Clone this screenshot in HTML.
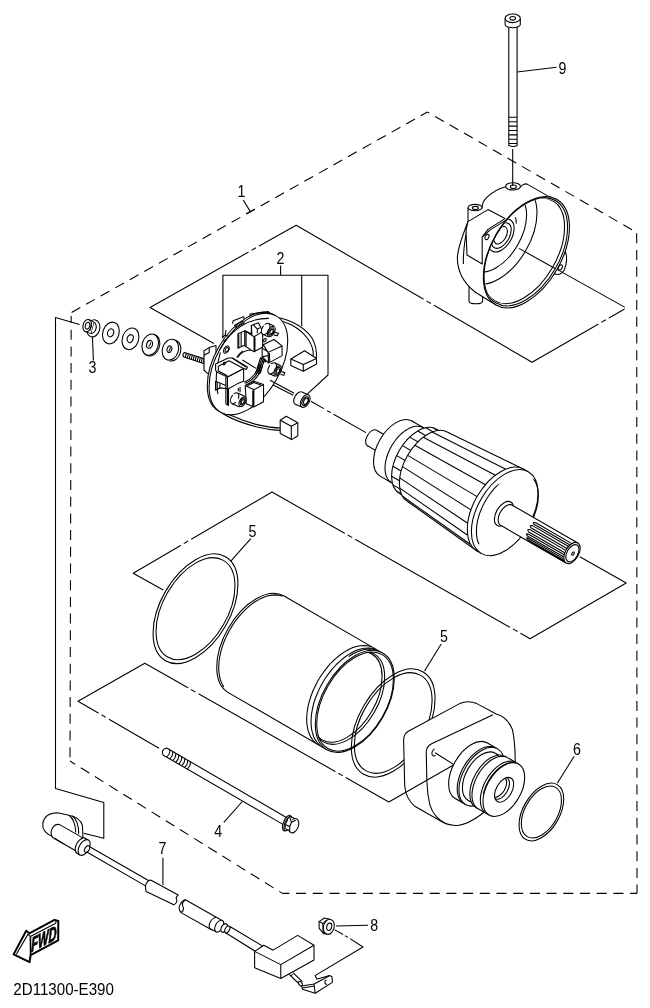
<!DOCTYPE html>
<html><head><meta charset="utf-8"><title>Starting Motor</title>
<style>
html,body{margin:0;padding:0;background:#fff}
svg{display:block;will-change:transform;opacity:0.999}
svg *{vector-effect:non-scaling-stroke}
.k{fill:none;stroke:#000;stroke-width:1.08;stroke-linecap:butt;stroke-linejoin:round}
.w{fill:#fff;stroke:#000;stroke-width:1.08;stroke-linecap:butt;stroke-linejoin:round}
.f{fill:#fff;stroke:none}
.t{fill:none;stroke:#000;stroke-width:0.8}
text{font-family:"Liberation Sans",Arial,sans-serif;font-size:16.6px;fill:#000;stroke:none}
</style></head><body>
<svg width="650" height="1008" viewBox="0 0 650 1008">
<rect width="650" height="1008" fill="#fff"/>
<g id="frame" class="k">
<!-- dashed assembly outline -->
<g stroke-dasharray="10 6.7">
<path d="M427.4,112 L636.7,232.4" stroke-dashoffset="7.8"/>
<path d="M427.4,112 L71.2,312.7" stroke-dashoffset="2.4"/>
<path d="M636.7,233.3 L637,893.4"/>
<path d="M71.2,316 L70,761" stroke-dashoffset="3"/>
<path d="M70,761 L282.4,893.4" stroke-dashoffset="4"/>
<path d="M282.4,893.4 L637,893.4" stroke-dashoffset="3"/>
</g>
<!-- plane 1 -->
<path d="M213.9,343.5 L150,307.5 L296.2,225.2 L532.1,362.3 L624.6,309"/>
<!-- plane 2 -->
<path d="M163.2,590 L133.2,573.2 L272,492 L530.1,638.7 L626.2,583 L579.8,556.7"/>
<!-- plane 3 -->
<path d="M159,748.3 L78,701.2 L144.8,663.2 L388.8,802"/>
<!-- wire route line -->
<path d="M79.5,324.5 L55.5,317.5 L55.5,788.5 L103.8,802.4 L103.8,838.2 L83.7,833.2"/>
</g>

<!-- chain-dash marks on plane edges -->
<g id="marks">
<path d="M248.5,252.1 L258.9,246.2" style="stroke:#fff;stroke-width:3;fill:none"/>
<path class="k" d="M251.4,250.4 L256.0,247.8"/>
<path d="M423.5,299.2 L433.9,305.2" style="stroke:#fff;stroke-width:3;fill:none"/>
<path class="k" d="M426.5,300.9 L430.9,303.5"/>
<path d="M598.4,324.1 L608.8,318.1" style="stroke:#fff;stroke-width:3;fill:none"/>
<path class="k" d="M601.3,322.4 L605.9,319.8"/>
<path d="M180.8,545.3 L191.2,539.3" style="stroke:#fff;stroke-width:3;fill:none"/>
<path class="k" d="M183.8,543.6 L188.2,541.0"/>
<path d="M344.8,533.4 L355.2,539.3" style="stroke:#fff;stroke-width:3;fill:none"/>
<path class="k" d="M347.7,535.0 L352.3,537.6"/>
<path d="M510.0,627.3 L520.4,633.2" style="stroke:#fff;stroke-width:3;fill:none"/>
<path class="k" d="M512.9,628.9 L517.5,631.5"/>
<path d="M98.5,713.1 L108.9,719.1" style="stroke:#fff;stroke-width:3;fill:none"/>
<path class="k" d="M101.5,714.8 L105.9,717.4"/>
<path d="M188.1,687.8 L198.5,693.8" style="stroke:#fff;stroke-width:3;fill:none"/>
<path class="k" d="M191.0,689.5 L195.6,692.1"/>
<path d="M335.4,771.6 L345.8,777.5" style="stroke:#fff;stroke-width:3;fill:none"/>
<path class="k" d="M338.3,773.3 L342.9,775.9"/>
</g>

<!-- rear housing (yoke end) : zoom coords x5 from (445,170) -->
<g id="housing" transform="translate(445,170) scale(0.2)">
<defs><clipPath id="hc"><ellipse cx="405" cy="410" rx="168" ry="292" transform="rotate(30 405 410)"/></clipPath></defs>
<!-- bottom peg -->
<path class="w" d="M120,560 L120,655 A34,14 0 0 0 188,655 L188,560 Z"/>
<!-- body -->
<path class="w" d="M559,147 L520,133 L415,73 Q405,66 392,72 L377,84 L303,84 C269,92 231,115 204,142 C192,155 186,170 185,190 L115,190 L115,258 C95,310 62,390 62,440 C62,520 100,570 150,610 L255,675 Z"/>
<path class="k" d="M118,262 C104,320 90,400 92,470"/>
<!-- left peg boss -->
<ellipse class="w" cx="150" cy="188" rx="35" ry="16"/>
<ellipse class="k" cx="152" cy="190" rx="15" ry="8"/>
<!-- top bolt boss -->
<ellipse class="w" cx="340" cy="82" rx="37" ry="18"/>
<ellipse class="k" cx="342" cy="84" rx="15" ry="9"/>
<!-- terminal block -->
<path class="w" d="M115,258 L215,198 L300,243 L215,297 L186,335 L186,470 L110,425 L105,300 Z"/>
<path class="k" d="M303,252 L228,298 L186,335"/>
<ellipse class="k" cx="210" cy="335" rx="9" ry="14" transform="rotate(30 210 335)"/>
<!-- right ear -->
<path class="w" d="M600,405 C612,430 610,470 596,500 C585,520 565,525 548,520 L560,470 Z"/>
<ellipse class="k" cx="577" cy="487" rx="9" ry="14" transform="rotate(30 577 487)"/>
<!-- front opening -->
<ellipse class="w" cx="407" cy="411" rx="175.7" ry="304.5" transform="rotate(30 407 411)"/>
<ellipse class="k" cx="404" cy="409" rx="170" ry="296" transform="rotate(30 404 409)"/>
<g clip-path="url(#hc)">
<ellipse class="k" cx="394" cy="404" rx="166" ry="289" transform="rotate(30 394 404)"/>
<ellipse class="k" cx="269" cy="325" rx="155.8" ry="270" transform="rotate(30 269 325)"/>
<ellipse class="k" cx="256" cy="313" rx="124" ry="215" transform="rotate(30 256 313)"/>
<path class="k" d="M352,236 Q358,250 356,268"/>
<ellipse class="k" cx="282" cy="328" rx="52" ry="90" transform="rotate(30 282 328)"/>
<ellipse class="k" cx="282" cy="328" rx="40" ry="70" transform="rotate(30 282 328)"/>
<ellipse class="k" cx="278" cy="326" rx="28" ry="48" transform="rotate(30 278 326)"/>
<path class="k" d="M650,548 L370,392"/>
</g>
<path class="k" d="M900,687 L560,497"/>
</g>

<!-- bolt 9 -->
<g id="bolt9">
<path class="k" d="M512.7,149 L512.7,186"/>
<path class="w" d="M508.8,24 L508.8,145.5 Q512.9,147.5 517.1,145.5 L517.1,24 Z"/>
<path class="k" d="M508.8,117.3 H517.1 M508.8,121.7 H517.1 M508.8,126.1 H517.1 M508.8,130.5 H517.1 M508.8,134.9 H517.1 M508.8,139.3 H517.1 M508.8,143.5 H517.1"/>
<path class="w" d="M505.1,18.5 L505.1,24.5 A7.6,3.2 0 0 0 520.3,24.5 L520.3,18.5 Z"/>
<ellipse class="w" cx="512.7" cy="18.3" rx="7.6" ry="4.3"/>
<ellipse class="k" cx="512.7" cy="18.3" rx="2.8" ry="1.8"/>
<path class="k" d="M517.1,72 L556.5,67.2"/>
<text x="558.6" y="73.6" textLength="7.9" lengthAdjust="spacingAndGlyphs">9</text>
</g>

<!-- nut 3 and washers -->
<g id="washers">
<!-- nut -->
<g transform="translate(-0.2,0.9) rotate(15 93.5 327.5)">
<ellipse class="w" cx="93.5" cy="327.5" rx="6.4" ry="8.7"/>
<ellipse class="k" cx="92.3" cy="327.2" rx="3.9" ry="5.7"/>
<path class="w" d="M86.7,320.2 L92.3,321.5 L92.3,332.9 L86.7,332.6 Z"/>
<path class="f" d="M86.7,320.4 L92.3,321.7 L92.3,332.7 L86.7,332.4 Z"/>
<ellipse class="w" cx="86.9" cy="326.4" rx="4.2" ry="6.2"/>
<ellipse class="k" cx="87.2" cy="326.4" rx="2.2" ry="3.5"/>
<path class="k" d="M90.6,323 L90.8,330.4"/>
</g>
<!-- washers -->
<ellipse class="w" cx="110.9" cy="333" rx="8.1" ry="11.1" transform="rotate(18 110.9 333)"/>
<ellipse class="k" cx="110.6" cy="332.8" rx="3" ry="4.1" transform="rotate(18 110.6 332.8)"/>
<ellipse class="w" cx="130.5" cy="338.8" rx="8.1" ry="11.1" transform="rotate(18 130.5 338.8)"/>
<ellipse class="k" cx="130.2" cy="338.6" rx="3" ry="4.1" transform="rotate(18 130.2 338.6)"/>
<ellipse class="w" cx="151.4" cy="345.2" rx="8.1" ry="11" transform="rotate(18 151.4 345.2)"/>
<ellipse class="w" cx="150.2" cy="344.7" rx="8" ry="10.9" transform="rotate(18 150.2 344.7)"/>
<ellipse class="k" cx="149.6" cy="344.4" rx="2.9" ry="4" transform="rotate(18 149.6 344.4)"/>
<path class="k" d="M148.6,346.6 Q150.4,345.4 150.8,342.4"/>
<ellipse class="w" cx="172.6" cy="350.6" rx="8" ry="10.6" transform="rotate(18 172.6 350.6)"/>
<path class="f" d="M172.5,340 L176,341 L170,361 L166,360 Z"/>
<ellipse class="w" cx="170.4" cy="349.6" rx="8" ry="10.6" transform="rotate(18 170.4 349.6)"/>
<ellipse class="k" cx="169.4" cy="349.2" rx="2.4" ry="3.4" transform="rotate(18 169.4 349.2)"/>
<path class="k" d="M168.6,351.4 Q170,350.2 170.4,347.2"/>
</g>
<path class="k" d="M92.4,336.5 L93.4,360.5"/>
<text x="88.6" y="373.4" textLength="7.9" lengthAdjust="spacingAndGlyphs">3</text>

<!-- brush holder assy (2) -->
<g id="brushleads" class="k">
<path d="M280.6,265.4 V275.3 M222.9,338.5 V275.3 H328 V375 L307.2,394.2 M301.7,275.3 V326.3"/>
</g>
<text x="276.6" y="264" textLength="7.9" lengthAdjust="spacingAndGlyphs">2</text>
<!-- zoom x5 from (190,300) -->
<g id="brush" transform="translate(190,300) scale(0.2)">
<!-- stud -->
<path class="w" d="M-28,262 L92,300 L86,324 L-34,284 Q-38,270 -28,262 Z"/>
<path class="k" d="M-18,265 L-24,288 M-8,268 L-14,291 M2,271 L-4,294 M12,274 L6,297 M22,277 L16,300 M32,280 L26,303 M42,283 L36,306 M52,287 L46,310 M62,290 L56,313 M72,293 L66,316"/>
<!-- left bracket -->
<path class="w" d="M130,228 L96,238 L70,254 L70,350 L86,366 L110,374 L130,300 Z"/>
<path class="k" d="M96,238 L96,262 L70,276"/>
<!-- wire 2 (bottom) -->
<path class="k" d="M120,520 C150,560 250,600 330,622 C380,634 420,640 455,640 M128,540 C170,580 260,615 330,634 C380,646 420,652 455,652"/>
<!-- wire 1 (top) -->
<path class="k" d="M400,84 C470,86 560,120 610,190 C630,225 634,260 632,290 M420,100 C480,104 545,135 590,195 C610,225 618,255 616,280"/>
<!-- plate -->
<ellipse class="w" cx="283" cy="315" rx="160.5" ry="278" transform="rotate(30 283 315)"/>
<ellipse class="w" cx="292" cy="320" rx="160.5" ry="278" transform="rotate(30 292 320)"/>
<!-- rim tabs -->
<path class="k" d="M212,118 L216,104 L268,84 L272,96 M300,82 L300,70 L392,58 L398,70 M160,186 L176,176 L196,182 M166,206 L186,196 M176,176 L180,150"/>
<path class="k" d="M150,248 C200,150 290,90 395,92 M152,262 C130,330 125,420 140,470"/>
<path class="k" d="M220,128 L268,104 M226,138 L274,114"/>
<!-- center hole -->
<path class="k" d="M238,288 C255,262 280,250 305,250"/>
<ellipse class="k" cx="182" cy="248" rx="12" ry="20" transform="rotate(30 182 248)"/>
<ellipse class="k" cx="184" cy="249" rx="7" ry="12" transform="rotate(30 184 249)"/>
<!-- axis -->
<path class="k" d="M262,300 L330,342 M345,352 L356,358"/>
</g>
<!-- upper details: zoom x9.286 from (225,305) -->
<g id="brushB" transform="translate(225,305) scale(0.10769)">
<!-- box1 fin -->
<path class="w" d="M120,268 L150,255 L185,238 L185,372 L150,388 L120,402 Z"/>
<path class="k" d="M150,257 L150,386 M128,272 L128,392"/>
<!-- box1 -->
<path class="w" d="M245,190 L310,165 L350,245 L350,390 L270,435 L185,380 L185,240 L245,268 Z"/>
<path class="k" d="M185,240 L270,295 L350,245 M270,295 L270,435 M245,190 L250,282 M265,185 L300,225 L322,212 M300,225 L300,262 M278,300 L278,428 M196,250 L196,384"/>
<!-- post1 -->
<ellipse class="w" cx="378" cy="222" rx="33" ry="57" transform="rotate(30 378 222)"/>
<path class="f" d="M350,173 L402,195 L430,294 L400,280 Z"/>
<path class="k" d="M406,173 L456,196 M349,271 L402,296"/>
<ellipse class="w" cx="430" cy="246" rx="30" ry="52" transform="rotate(30 430 246)"/>
<ellipse class="k" cx="430" cy="246" rx="21" ry="37" transform="rotate(30 430 246)"/>
<ellipse class="k" cx="432" cy="247" rx="13" ry="23" transform="rotate(30 432 247)"/>
<path class="k" d="M466,254 L496,262 L486,286 L456,280"/>
<ellipse class="w" cx="370" cy="326" rx="10" ry="17" transform="rotate(30 370 326)"/>
<!-- box2 -->
<path class="w" d="M355,370 L455,320 L530,380 L530,470 L405,540 L345,480 L345,400 Z"/>
<path class="k" d="M355,370 L400,440 L530,380 M400,440 L405,540 M345,400 L390,430 M345,480 L400,470 M412,446 L416,530"/>
<!-- braided leads -->
<path class="k" d="M330,488 L282,640 M342,494 L296,640 M354,500 L310,640 M366,506 L324,640 M330,488 L370,508 L378,530 L352,522"/>
<!-- post2 -->
<ellipse class="w" cx="438" cy="588" rx="33" ry="57" transform="rotate(30 438 588)"/>
<path class="f" d="M410,539 L462,561 L490,660 L460,646 Z"/>
<path class="k" d="M466,539 L516,562 M409,637 L462,662"/>
<ellipse class="w" cx="490" cy="612" rx="30" ry="52" transform="rotate(30 490 612)"/>
<ellipse class="k" cx="490" cy="612" rx="21" ry="37" transform="rotate(30 490 612)"/>
<ellipse class="k" cx="492" cy="613" rx="13" ry="23" transform="rotate(30 492 613)"/>
<path class="k" d="M526,620 L556,628 L546,652 L516,646"/>
</g>
<!-- lower details: zoom x9.286 from (200,350) -->
<g id="brushC" transform="translate(200,350) scale(0.10769)">
<path class="k" d="M340,70 Q365,30 400,10"/>
<path class="k" d="M552,128 C540,200 480,270 410,300 M566,136 C552,210 492,282 420,312 M580,144 C566,220 504,294 430,324"/>
<!-- box3 lower channel -->
<path class="w" d="M145,290 L240,330 L240,500 L265,515 L265,360 L185,352 L145,372 Z"/>
<path class="k" d="M160,300 L160,362 M185,310 L185,352 M145,290 L145,372 L185,352"/>
<!-- box3 body -->
<path class="w" d="M255,250 L405,172 L405,290 L350,312 L255,365 Z"/>
<path class="k" d="M255,250 L255,510 M240,250 L240,330"/>
<!-- box3 top plate -->
<path class="w" d="M145,130 L262,75 L300,75 L440,158 L432,180 L405,172 L255,250 L165,210 L145,190 Z"/>
<path class="k" d="M170,150 L170,195 L255,240 M170,150 L270,100 L405,172 M300,75 L430,160"/>
<ellipse class="k" cx="226" cy="126" rx="8" ry="14" transform="rotate(30 226 126)"/>
<!-- box4 -->
<path class="w" d="M420,330 L500,290 L590,320 L590,480 L500,530 L430,500 Z"/>
<path class="k" d="M420,330 L500,370 L590,320 M500,370 L500,530 M440,332 L500,302 L566,324 M490,376 L490,524"/>
<!-- post3 -->
<ellipse class="w" cx="322" cy="448" rx="32" ry="55" transform="rotate(30 322 448)"/>
<path class="f" d="M295,400 L345,422 L375,520 L346,506 Z"/>
<path class="k" d="M349,400 L420,432 M294,496 L368,530"/>
<ellipse class="w" cx="395" cy="480" rx="28" ry="48" transform="rotate(30 395 480)"/>
<ellipse class="k" cx="395" cy="480" rx="19" ry="33" transform="rotate(30 395 480)"/>
<ellipse class="k" cx="397" cy="481" rx="12" ry="21" transform="rotate(30 397 481)"/>
<path class="k" d="M356,352 L356,384 M372,344 L372,392"/>
</g>
<!-- brushes, bushing -->
<g id="brushes">
<path class="k" d="M270,380.2 L294.2,393.2 M273.2,385 L293.2,395.3"/>
<path class="w" d="M290.8,359 L304.6,350.7 L316.5,358.5 L316.5,364 L303.3,371.3 L290.8,365.4 Z"/>
<path class="k" d="M290.8,359 L303.3,364.6 L316.5,358.5 M303.3,364.6 V371.3"/>
<path class="w" d="M280.2,420.3 L286.2,416.3 L297.8,422.8 L297.8,435.7 L291.7,439.6 L280.2,433.5 Z"/>
<path class="k" d="M280.2,420.3 L291.3,426.3 L297.8,422.8 M291.3,426.3 V439.6"/>
<ellipse class="w" cx="298.6" cy="398.2" rx="4" ry="7" transform="rotate(30 298.6 398.2)"/>
<path class="f" d="M302.1,392.1 L308.7,394.9 L301.7,407.1 L295.1,404.3 Z"/>
<path class="k" d="M302.1,392.1 L308.7,394.9 M295.1,404.3 L301.7,407.1"/>
<ellipse class="w" cx="305.2" cy="401" rx="4" ry="7" transform="rotate(30 305.2 401)"/>
<ellipse class="k" cx="305.4" cy="401.1" rx="2.8" ry="4.8" transform="rotate(30 305.4 401.1)"/>
<ellipse class="k" cx="305.8" cy="401.3" rx="1.9" ry="3.3" transform="rotate(30 305.8 401.3)"/>
<path class="k" d="M310.9,401.2 L323.8,408.6 M327.1,410.7 L330.8,412.5 M333.5,414.2 L366,432.6"/>
</g>

<!-- armature : zoom x5 from (355,400) -->
<g id="armature" transform="translate(355,400) scale(0.2)">
<defs><clipPath id="ac"><ellipse cx="748.5" cy="563" rx="136" ry="235.5" transform="rotate(30 748.5 563)"/></clipPath></defs>
<ellipse class="w" cx="85.0" cy="190.0" rx="26.0" ry="45.0" transform="rotate(30 85.0 190.0)"/>
<path class="f" d="M107.5,151.0 L192.5,200.0 L147.5,278.0 L62.5,229.0 Z"/>
<path class="k" d="M107.5,151.0 L192.5,200.0 M147.5,278.0 L62.5,229.0"/>
<ellipse class="f" cx="170.0" cy="239.0" rx="26.0" ry="45.0" transform="rotate(30 170.0 239.0)"/>
<ellipse class="w" cx="205.0" cy="243.0" rx="91.8" ry="159.0" transform="rotate(30 205.0 243.0)"/>
<path class="f" d="M284.5,105.3 L393.3,168.1 L234.3,443.5 L125.5,380.7 Z"/>
<path class="k" d="M284.5,105.3 L393.3,168.1 M234.3,443.5 L125.5,380.7"/>
<ellipse class="f" cx="313.8" cy="305.8" rx="91.8" ry="159.0" transform="rotate(30 313.8 305.8)"/>
<path class="k" d="M341.9,138.3 L333.2,134.3 L323.6,131.8 L313.4,130.9 L302.7,131.5 L291.5,133.8 L280.0,137.6 L268.3,143.0 L256.5,149.8 L244.8,157.9 L233.3,167.4 L222.1,178.1 L211.4,189.8 L201.2,202.5 L191.6,216.0 L182.9,230.1 L175.0,244.7 L168.1,259.7 L162.2,274.9 L157.4,290.1 L153.8,305.1 L151.4,319.8 L150.1,334.0 L150.1,347.6 L151.4,360.4 L153.8,372.3 L157.4,383.1 L162.2,392.8 L168.1,401.1 L175.0,408.1 L182.9,413.7"/>
<ellipse class="w" cx="313.8" cy="305.8" rx="106.8" ry="185.0" transform="rotate(30 313.8 305.8)"/>
<path class="f" d="M406.3,145.6 L455.9,174.2 L270.9,494.6 L221.3,466.0 Z"/>
<path class="k" d="M406.3,145.6 L455.9,174.2 M270.9,494.6 L221.3,466.0"/>
<ellipse class="f" cx="363.4" cy="334.4" rx="106.8" ry="185.0" transform="rotate(30 363.4 334.4)"/>
<path class="k" d="M390.7,139.2 L440.3,167.8"/>
<path class="k" d="M354.2,138.8 L403.8,167.4"/>
<path class="k" d="M313.8,154.7 L363.4,183.3"/>
<path class="k" d="M273.4,185.5 L323.0,214.1"/>
<path class="k" d="M236.9,228.0 L286.5,256.6"/>
<path class="k" d="M208.0,278.1 L257.6,306.7"/>
<path class="k" d="M189.4,331.0 L239.0,359.6"/>
<path class="k" d="M183.0,381.3 L232.6,409.9"/>
<path class="k" d="M189.4,424.3 L239.0,452.9"/>
<path class="k" d="M208.0,455.7 L257.6,484.3"/>
<ellipse class="w" cx="363.4" cy="334.4" rx="115.5" ry="200.0" transform="rotate(30 363.4 334.4)"/>
<path class="f" d="M463.4,161.2 L845.8,347.1 L610.2,754.9 L263.4,507.6 Z"/>
<path class="k" d="M463.4,161.2 L845.8,347.1 M610.2,754.9 L263.4,507.6"/>
<ellipse class="f" cx="728.0" cy="551.0" rx="136.0" ry="235.5" transform="rotate(30 728.0 551.0)"/>
<path class="k" d="M385.5,160.3 L754.1,346.0"/>
<path class="k" d="M341.3,185.9 L702.0,376.1"/>
<path class="k" d="M299.2,226.0 L652.4,423.3"/>
<path class="k" d="M263.4,276.7 L610.3,483.0"/>
<path class="k" d="M237.4,333.0 L579.6,549.4"/>
<path class="k" d="M223.7,389.5 L563.5,615.9"/>
<path class="k" d="M223.7,440.6 L563.5,676.0"/>
<path class="k" d="M237.4,481.3 L579.6,724.0"/>
<ellipse class="w" cx="728.0" cy="551.0" rx="136.0" ry="235.5" transform="rotate(30 728.0 551.0)"/>
<path class="f" d="M845.8,347.1 L866.2,359.1 L630.8,766.9 L610.2,754.9 Z"/>
<path class="k" d="M845.8,347.1 L866.2,359.1 M630.8,766.9 L610.2,754.9"/>
<ellipse class="w" cx="748.5" cy="563.0" rx="136.0" ry="235.5" transform="rotate(30 748.5 563.0)"/>
<ellipse class="k" cx="762.0" cy="567.0" rx="126.4" ry="219.0" transform="rotate(30 762.0 567.0)" clip-path="url(#ac)"/>
<ellipse class="k" cx="745.0" cy="569.0" rx="39.3" ry="68.0" transform="rotate(30 745.0 569.0)"/>
<path class="w" d="M786.0,525.8 L1114.0,714.8 L1056.0,815.2 L728.0,626.2 725.1,624.2 L721.8,620.7 L719.2,616.3 L717.4,611.1 L716.3,605.3 L716.0,598.8 L716.5,592.0 L717.8,584.8 L719.8,577.4 L722.6,570.1 L726.0,562.8 L730.1,555.8 L734.7,549.2 L739.7,543.1 L745.0,537.6 L750.6,532.9 L756.3,529.1 L762.0,526.1 L767.6,524.1 L773.0,523.2 L778.1,523.2 L782.8,524.3 Z"/>
<path class="k" d="M1084.3,718.1 L904.3,614.1 Q884.6,608.1 895.1,620.8 L1075.1,724.8"/>
<path class="k" d="M1067.7,732.1 L887.7,628.1 Q868.6,624.0 879.8,638.3 L1059.8,742.3"/>
<path class="k" d="M1054.0,751.8 L874.0,647.8 Q856.2,644.7 868.8,659.7 L1048.8,763.7"/>
<path class="k" d="M1045.8,773.8 L865.8,669.8 Q849.7,666.7 864.1,681.3 L1044.1,785.3"/>
<path class="k" d="M1044.3,794.3 L864.3,690.3 Q850.1,686.1 866.5,699.4 L1046.5,803.4"/>
<path class="k" d="M1049.1,808.7 L869.1,704.7 Q856.6,698.8 874.5,710.3 L1054.5,814.3"/>
<ellipse class="w" cx="1085.0" cy="765.0" rx="33.5" ry="58.0" transform="rotate(30 1085.0 765.0)"/>
<ellipse class="k" cx="1087.0" cy="766.0" rx="27.1" ry="47.0" transform="rotate(30 1087.0 766.0)"/>
<ellipse class="k" cx="1090.0" cy="768.0" rx="5.2" ry="9.0" transform="rotate(30 1090.0 768.0)"/>
</g>

<!-- o-ring 5 (left) -->
<g id="oring5a">
<ellipse class="w" cx="195.50" cy="608.70" rx="34.64" ry="60.00" transform="rotate(30 195.50 608.70)"/>
<ellipse class="k" cx="195.50" cy="608.70" rx="32.22" ry="55.80" transform="rotate(30 195.50 608.70)"/>
<path class="k" d="M250.8,538.6 L230.8,561.2"/>
<text x="248.4" y="537.4" textLength="7.9" lengthAdjust="spacingAndGlyphs">5</text>
</g>
<!-- yoke -->
<g id="yoke">
<ellipse class="w" cx="256.20" cy="644.30" rx="32.22" ry="55.80" transform="rotate(30 256.20 644.30)"/>
<path class="f" d="M284.1,596.0 L382.7,653.1 L326.9,749.7 L228.3,692.6 Z"/>
<path class="k" d="M284.1,596.0 L382.7,653.1 M326.9,749.7 L228.3,692.6"/>
<ellipse class="w" cx="354.80" cy="701.40" rx="32.22" ry="55.80" transform="rotate(30 354.80 701.40)"/>
<path class="k" d="M282.6,596.3 L279.2,595.3 L275.7,594.9 L271.9,595.1 L267.9,595.8 L263.8,597.2 L259.7,599.1 L255.5,601.5 L251.3,604.4 L247.3,607.8 L243.3,611.6 L239.5,615.8 L235.9,620.3 L232.6,625.1 L229.5,630.2 L226.8,635.4 L224.4,640.7 L222.4,646.1 L220.9,651.5 L219.7,656.8 L219.0,662.0 L218.7,666.9 L218.9,671.7 L219.5,676.1 L220.5,680.1 L222.0,683.8 L223.9,687.0"/>
<defs><clipPath id="yc"><ellipse class="k" cx="354.80" cy="701.40" rx="31.52" ry="54.60" transform="rotate(30 354.80 701.40)"/></clipPath></defs>
<ellipse class="k" cx="355.06" cy="701.55" rx="31.29" ry="54.20" transform="rotate(30 355.06 701.55)"/>
<g clip-path="url(#yc)">
<ellipse class="k" cx="348.74" cy="697.90" rx="29.33" ry="50.80" transform="rotate(30 348.74 697.90)"/>
<ellipse class="k" cx="347.01" cy="696.90" rx="28.64" ry="49.60" transform="rotate(30 347.01 696.90)"/>
</g>
<path class="k" d="M375.3,649.2 L372.0,648.3 L368.4,648.0 L364.6,648.2 L360.7,649.0 L356.6,650.3 L352.5,652.2 L348.4,654.6 L344.3,657.5 L340.3,660.8 L336.3,664.5 L332.6,668.6 L329.0,673.1 L325.6,677.8 L322.6,682.8 L319.8,687.9 L317.4,693.2 L315.3,698.5 L313.6,703.8 L312.4,709.1 L311.5,714.3 L311.1,719.3 L311.1,724.0 L311.5,728.5 L312.4,732.7 L313.6,736.5 L315.3,739.9 L317.4,742.8 L319.8,745.3"/>
<path class="k" d="M371.0,646.7 L367.6,645.8 L364.1,645.5 L360.3,645.7 L356.4,646.5 L352.3,647.8 L348.2,649.7 L344.1,652.1 L340.0,655.0 L335.9,658.3 L332.0,662.0 L328.2,666.1 L324.7,670.6 L321.3,675.3 L318.2,680.3 L315.5,685.4 L313.0,690.7 L311.0,696.0 L309.3,701.3 L308.0,706.6 L307.2,711.8 L306.7,716.8 L306.7,721.5 L307.2,726.0 L308.0,730.2 L309.3,734.0 L311.0,737.4 L313.0,740.3 L315.5,742.8"/>
<path class="k" d="M377.0,650.2 L373.5,649.3 L369.8,649.0 L365.8,649.3 L361.7,650.2 L357.4,651.7 L353.1,653.8 L348.8,656.5"/>
</g>
<!-- o-ring 5 (right) -->
<g id="oring5b">
<ellipse class="k" cx="393.20" cy="723.00" rx="34.18" ry="59.20" transform="rotate(30 393.20 723.00)"/>
<ellipse class="k" cx="393.20" cy="723.00" rx="31.75" ry="55.00" transform="rotate(30 393.20 723.00)"/>
<path class="k" d="M441.2,644 L424.5,671"/>
<text x="440" y="641.8" textLength="7.9" lengthAdjust="spacingAndGlyphs">5</text>
</g>

<!-- front cover : zoom x4.643 from (395,695) -->
<g id="cover" transform="translate(395,695) scale(0.21538)">
<path class="w" d="M40,210 Q40,180 62,168 L300,40 Q340,22 380,40 L470,88 Q520,100 545,160 Q558,220 558,300 L560,420 L400,555 Q340,600 290,606 Q250,606 220,590 L90,515 Q50,480 45,420 Z"/>
<path class="k" d="M240,600 Q180,570 162,510 Q150,460 148,400 L145,265 Q146,238 170,226 L455,92"/>
<path class="k" d="M184,250 A11,17 30 1 0 188,281"/>
<path class="k" d="M186,268 L272,322"/>
</g>
<path class="k" d="M388.8,802 L453.5,765"/>
<g id="boss" transform="translate(440,730) scale(0.13846)">
<ellipse class="w" cx="226.40" cy="294.40" rx="133.95" ry="232.00" transform="rotate(30 226.40 294.40)"/>
<path class="f" d="M342.4,93.5 L416.4,136.5 L184.4,538.3 L110.4,495.3 Z"/>
<path class="k" d="M342.4,93.5 L416.4,136.5 M184.4,538.3 L110.4,495.3"/>
<ellipse class="w" cx="300.40" cy="337.40" rx="133.95" ry="232.00" transform="rotate(30 300.40 337.40)"/>
<path class="k" d="M391.5,123.6 L377.6,119.9 L362.8,118.6 L347.1,119.6 L330.7,122.9 L313.9,128.5 L296.9,136.3 L279.7,146.2 L262.6,158.1 L245.8,171.9 L229.5,187.5 L213.8,204.6 L198.9,223.1 L185.0,242.8 L172.3,263.4 L160.8,284.8 L150.7,306.7 L142.1,328.8 L135.1,350.9 L129.8,372.9 L126.2,394.3 L124.5,415.1 L124.5,434.9 L126.2,453.6 L129.8,470.9 L135.1,486.7 L142.1,500.8 L150.7,513.0 L160.8,523.2"/>
<ellipse class="w" cx="300.40" cy="337.40" rx="113.16" ry="196.00" transform="rotate(30 300.40 337.40)"/>
<path class="f" d="M398.4,167.7 L464.0,205.3 L268.0,544.7 L202.4,507.1 Z"/>
<path class="k" d="M398.4,167.7 L464.0,205.3 M268.0,544.7 L202.4,507.1"/>
<ellipse class="f" cx="366.00" cy="375.00" rx="113.16" ry="196.00" transform="rotate(30 366.00 375.00)"/>
<ellipse class="w" cx="366.00" cy="375.00" rx="122.98" ry="213.00" transform="rotate(30 366.00 375.00)"/>
<path class="f" d="M472.5,190.5 L567.5,245.5 L354.5,614.5 L259.5,559.5 Z"/>
<path class="k" d="M472.5,190.5 L567.5,245.5 M354.5,614.5 L259.5,559.5"/>
<ellipse class="w" cx="461.00" cy="430.00" rx="122.98" ry="213.00" transform="rotate(30 461.00 430.00)"/>
<path class="k" d="M476.4,194.1 L463.6,190.8 L450.0,189.6 L435.6,190.5 L420.6,193.5 L405.1,198.6 L389.5,205.8 L373.7,214.9 L358.0,225.8 L342.6,238.5 L327.6,252.8 L313.2,268.5 L299.6,285.5 L286.8,303.6 L275.1,322.5 L264.5,342.1 L255.3,362.2 L247.4,382.5 L241.0,402.9 L236.1,423.0 L232.8,442.7 L231.2,461.7 L231.2,479.9 L232.8,497.1 L236.1,513.0 L241.0,527.5 L247.4,540.4 L255.3,551.6 L264.5,561.0"/>
<path class="k" d="M536.7,229.1 L524.0,225.8 L510.3,224.6 L495.9,225.5 L480.9,228.5 L465.5,233.6 L449.8,240.8 L434.1,249.9 L418.4,260.8 L403.0,273.5 L388.0,287.8 L373.6,303.5 L359.9,320.5 L347.2,338.6 L335.4,357.5 L324.9,377.1 L315.6,397.2 L307.7,417.5 L301.3,437.9 L296.5,458.0 L293.2,477.7 L291.5,496.7 L291.5,514.9 L293.2,532.1 L296.5,548.0 L301.3,562.5 L307.7,575.4 L315.6,586.6 L324.9,596.0"/>
<path class="k" d="M549.3,239.8 L536.7,236.5 L523.2,235.3 L509.0,236.2 L494.2,239.2 L479.0,244.2 L463.6,251.3 L448.0,260.3 L432.6,271.1 L417.4,283.6 L402.6,297.6 L388.4,313.1 L374.9,329.9 L362.4,347.7 L350.8,366.4 L340.4,385.7 L331.3,405.5 L323.5,425.5 L317.2,445.6 L312.4,465.4"/>
<ellipse class="k" cx="463.00" cy="432.00" rx="56.58" ry="98.00" transform="rotate(30 463.00 432.00)"/>
<defs><clipPath id="bc"><ellipse class="k" cx="463.00" cy="432.00" rx="56.58" ry="98.00" transform="rotate(30 463.00 432.00)"/></clipPath></defs>
<g clip-path="url(#bc)">
<ellipse class="k" cx="440.00" cy="420.00" rx="50.81" ry="88.00" transform="rotate(30 440.00 420.00)"/>
<ellipse class="k" cx="425.00" cy="412.00" rx="46.19" ry="80.00" transform="rotate(30 425.00 412.00)"/>
</g>
</g>
<g id="oring6">
<ellipse class="w" cx="541.40" cy="812.00" rx="18.24" ry="31.60" transform="rotate(30 541.40 812.00)"/>
<ellipse class="k" cx="541.40" cy="812.00" rx="16.40" ry="28.40" transform="rotate(30 541.40 812.00)"/>
<path class="k" d="M574.2,756.2 L557.3,783.2"/>
<text x="573" y="754.8" textLength="7.9" lengthAdjust="spacingAndGlyphs">6</text>
</g>

<!-- bolt 4 : zoom x4.0625 from (150,735) -->
<g id="bolt4" transform="translate(150,735) scale(0.24615)">
<path class="w" d="M68,53 L556,336 L542,364 L54,82 Q42,60 68,53 Z"/>
<path class="k" d="M80,60 Q84,76 68,90 M92,67 Q96,83 80,97 M104,74 Q108,90 92,104 M116,81 Q120,97 104,111 M128,88 Q132,104 116,118 M140,95 Q144,111 128,125 M152,102 Q156,118 140,132 M164,109 Q166,124 152,139"/>
</g>
<!-- head : zoom x13 from (265,800) -->
<g id="bolt4h" transform="translate(265,800) scale(0.076923)">
<ellipse class="w" cx="285" cy="300" rx="45" ry="108" transform="rotate(22 285 300)"/>
<ellipse class="w" cx="300" cy="306" rx="42" ry="100" transform="rotate(22 300 306)"/>
<path class="w" d="M318,214 L372,238 L372,428 L318,400 L262,372 L262,318 Z"/>
<path class="f" d="M320,216 L372,240 L372,426 L320,398 Z"/>
<ellipse class="w" cx="372" cy="333" rx="62" ry="96" transform="rotate(22 372 333)"/>
<path class="f" d="M300,240 L360,250 L350,400 L300,380 Z"/>
<path class="k" d="M318,214 L345,290 L400,262 M345,290 L322,345 L322,398 M262,318 L322,345 M330,212 L380,242"/>
</g>
<path class="k" d="M242.3,801.5 L223.8,822.4"/>
<text x="214.2" y="836.6" textLength="7.9" lengthAdjust="spacingAndGlyphs">4</text>

<!-- lead wire 7 : left part zoom x4.0625 from (30,800) -->
<g id="wire7a" transform="translate(30,800) scale(0.24615)">
<!-- boot -->
<path class="w" d="M95,150 Q48,132 52,95 Q60,52 112,52 L158,62 Q204,70 213,104 L215,150 L190,200 Z"/>
<path class="k" d="M158,62 Q184,80 186,132 M172,64 Q198,84 198,138"/>
<!-- wire -->
<path class="w" d="M232,184 L490,332 L478,354 L222,206 Z"/>
<!-- sleeve -->
<path class="w" d="M120,100 L218,156 L196,212 L92,152 Q78,130 95,108 Q106,96 120,100 Z"/>
<path class="k" d="M100,154 Q112,166 136,178"/>
<ellipse class="w" cx="208" cy="186" rx="20" ry="35" transform="rotate(30 208 186)"/>
<path class="f" d="M216,156 L236,166 L214,222 L196,212 Z"/>
<path class="k" d="M224,156 L236,162 M190,216 L204,224"/>
<ellipse class="w" cx="220" cy="193" rx="20" ry="35" transform="rotate(30 220 193)"/>
<ellipse class="w" cx="232" cy="199" rx="9" ry="15" transform="rotate(30 232 199)"/>
<!-- sleeve 2 -->
<path class="w" d="M492,326 L602,386 Q590,396 596,406 Q600,416 584,426 L472,372 Q464,346 478,332 Q484,324 492,326 Z"/>
</g>
<path class="k" d="M162.9,857.8 V885"/>
<text x="158.6" y="854" textLength="7.9" lengthAdjust="spacingAndGlyphs">7</text>
<!-- right part zoom x3.25 from (170,880) -->
<g id="wire7b" transform="translate(170,880) scale(0.30769)">
<path class="w" d="M196,152 L300,214 L284,236 L182,172 Z"/>
<path class="w" d="M50,64 L152,122 L132,160 L36,106 Q24,92 34,78 Q40,66 50,64 Z"/>
<path class="k" d="M50,64 Q36,74 42,86 Q48,96 36,106"/>
<ellipse class="w" cx="142" cy="141" rx="12" ry="21" transform="rotate(30 142 141)"/>
<path class="f" d="M150,122 L170,132 L152,168 L134,158 Z"/>
<path class="k" d="M152,122 L170,132 M132,160 L152,169"/>
<ellipse class="w" cx="160" cy="150" rx="12" ry="21" transform="rotate(30 160 150)"/>
<ellipse class="w" cx="176" cy="156" rx="9" ry="15" transform="rotate(30 176 156)"/>
<ellipse class="w" cx="186" cy="161" rx="7" ry="12" transform="rotate(30 186 161)"/>
<!-- lug placeholder -->
<!-- terminal boot -->
<path class="w" d="M275,232 L305,212 L335,228 L415,180 L468,212 L468,260 L360,320 L275,285 Z"/>
<path class="k" d="M275,232 L360,275 L468,212 M360,275 L360,320"/>
</g>
<!-- lug + nut 8 : zoom x5 from (250,900) -->
<g id="lug" transform="translate(250,900) scale(0.2)">
<path class="k" d="M196,372 L246,420 M216,364 L262,408 M205,378 L215,372"/>
<ellipse class="w" cx="252" cy="418" rx="8" ry="13" transform="rotate(-40 252 418)"/>
<path class="w" d="M258,430 L320,420 L400,378 L410,384 L412,412 L326,466 L262,446 Z"/>
<path class="k" d="M320,420 L326,466 M262,440 L322,430 M332,396 L398,377"/>
<path class="k" d="M384,402 A7,10 0 1 0 385,420"/>
</g>
<g id="nut8" transform="translate(250,900) scale(0.2)">
<path class="w" d="M345,108 L372,90 L398,96 L400,170 L368,168 L346,142 Z"/>
<path class="k" d="M345,108 L364,118 L366,166 M364,118 L384,100"/>
<ellipse class="w" cx="394" cy="134" rx="27" ry="38" transform="rotate(15 394 134)"/>
<ellipse class="k" cx="396" cy="134" rx="12" ry="19" transform="rotate(15 396 134)"/>
</g>
<path class="k" d="M336,926 L368,925.2"/>
<text x="370.2" y="931.2" textLength="7.9" lengthAdjust="spacingAndGlyphs">8</text>
<path class="k" d="M334.6,929.6 L343,934.5 M345,935.7 L348,937.4 M350,938.6 L363,947 L315,975.6 L317,979"/>

<!-- label 1 -->
<path class="k" d="M243.2,200 L250.2,211.4 M246.2,213.8 L254.8,209.2"/>
<text x="237.4" y="196.9" textLength="7.9" lengthAdjust="spacingAndGlyphs">1</text>
<!-- FWD arrow : zoom x9.286 from (5,910) -->
<g id="fwd" transform="translate(5,910) scale(0.10769)">
<path class="w" style="stroke-width:2" d="M197,192 L226,216 L460,92 L495,102 L494,282 L238,418 L228,484 L80,412 Z"/>
<path class="k" d="M104,414 L214,224 L236,246 L471,123 L474,100"/>
<path class="k" style="stroke-width:1.6" d="M236,246 L238,418"/>
</g>
<text transform="translate(31.2,952.0) skewY(-26.5) scale(0.56,1)" style="font-size:20px;font-weight:bold;font-style:italic;stroke:#000;stroke-width:0.7" x="0" y="0">FWD</text>
<text x="13.3" y="995" textLength="100.6" lengthAdjust="spacingAndGlyphs">2D11300-E390</text>

</svg>
</body></html>
